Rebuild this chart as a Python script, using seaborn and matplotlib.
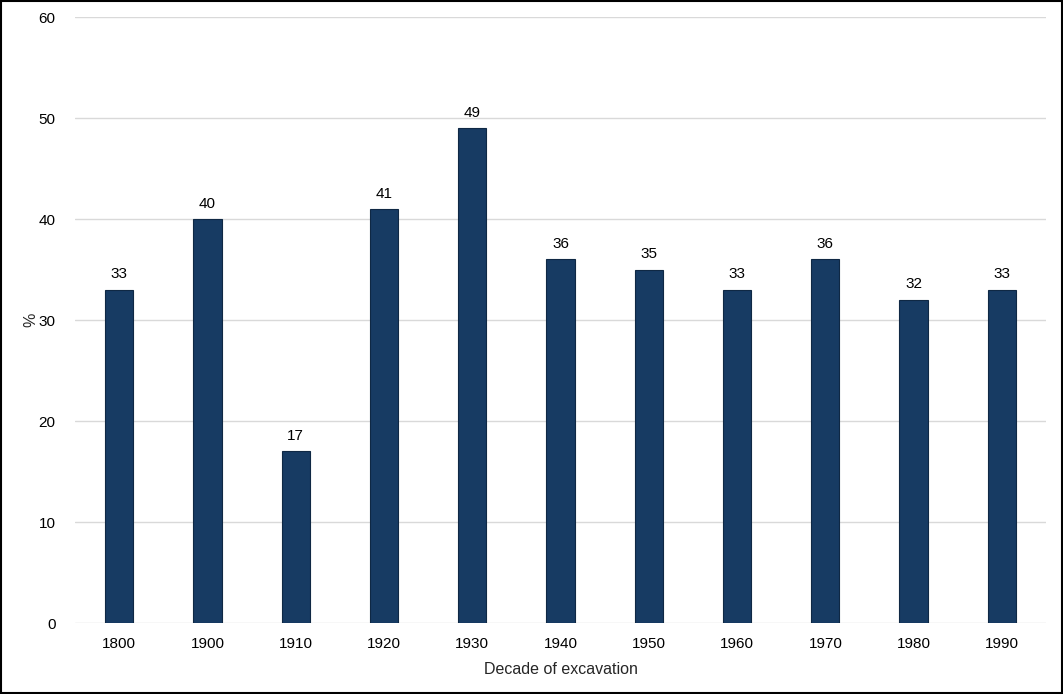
import pandas as pd
import matplotlib
matplotlib.use("Agg")
import matplotlib.pyplot as plt
import seaborn as sns

# ---------------------------------------------------------
# DATA
# ---------------------------------------------------------

decades = ["1800", "1900", "1910", "1920", "1930", "1940",
           "1950", "1960", "1970", "1980", "1990"]
percent = [33, 40, 17, 41, 49, 36, 35, 33, 36, 32, 33]

y_ticks = [0, 10, 20, 30, 40, 50, 60]

df = pd.DataFrame({"Decade": decades, "Percent": percent})

# ---------------------------------------------------------
# PLOT
# ---------------------------------------------------------

sns.set_style("white")
plt.rcParams["font.family"] = ["Liberation Sans", "DejaVu Sans"]

fig = plt.figure(figsize=(10.63, 6.94), dpi=100)
ax = fig.add_axes([0.0706, 0.1023, 0.9134, 0.8732])

sns.barplot(data=df, x="Decade", y="Percent", order=decades,
            color="#173B63", saturation=1, width=0.32,
            edgecolor="#0f2844", linewidth=0.8, ax=ax, zorder=3)

for cont in ax.containers:
    ax.bar_label(cont, fmt="%d", padding=6, fontsize=11, color="black")

ax.set_ylim(0, 60)
ax.set_yticks(y_ticks)
ax.set_xlim(-0.5, len(decades) - 0.5)
ax.grid(axis="y", color="#d9d9d9", linewidth=1, zorder=0)
for s in ax.spines.values():
    s.set_visible(False)
ax.tick_params(axis="both", length=0, labelsize=11, colors="black")
ax.tick_params(axis="x", pad=10)
ax.tick_params(axis="y", pad=14)

ax.set_xlabel("Decade of excavation", fontsize=11.5, labelpad=8)
ax.set_ylabel("%", fontsize=11.5, labelpad=0)

# outer frame
fig.patches.append(plt.Rectangle((0.001, 0.001), 0.998, 0.997,
                                 transform=fig.transFigure, fill=False,
                                 edgecolor="black", linewidth=1.5))

fig.savefig("out.png", dpi=100)
